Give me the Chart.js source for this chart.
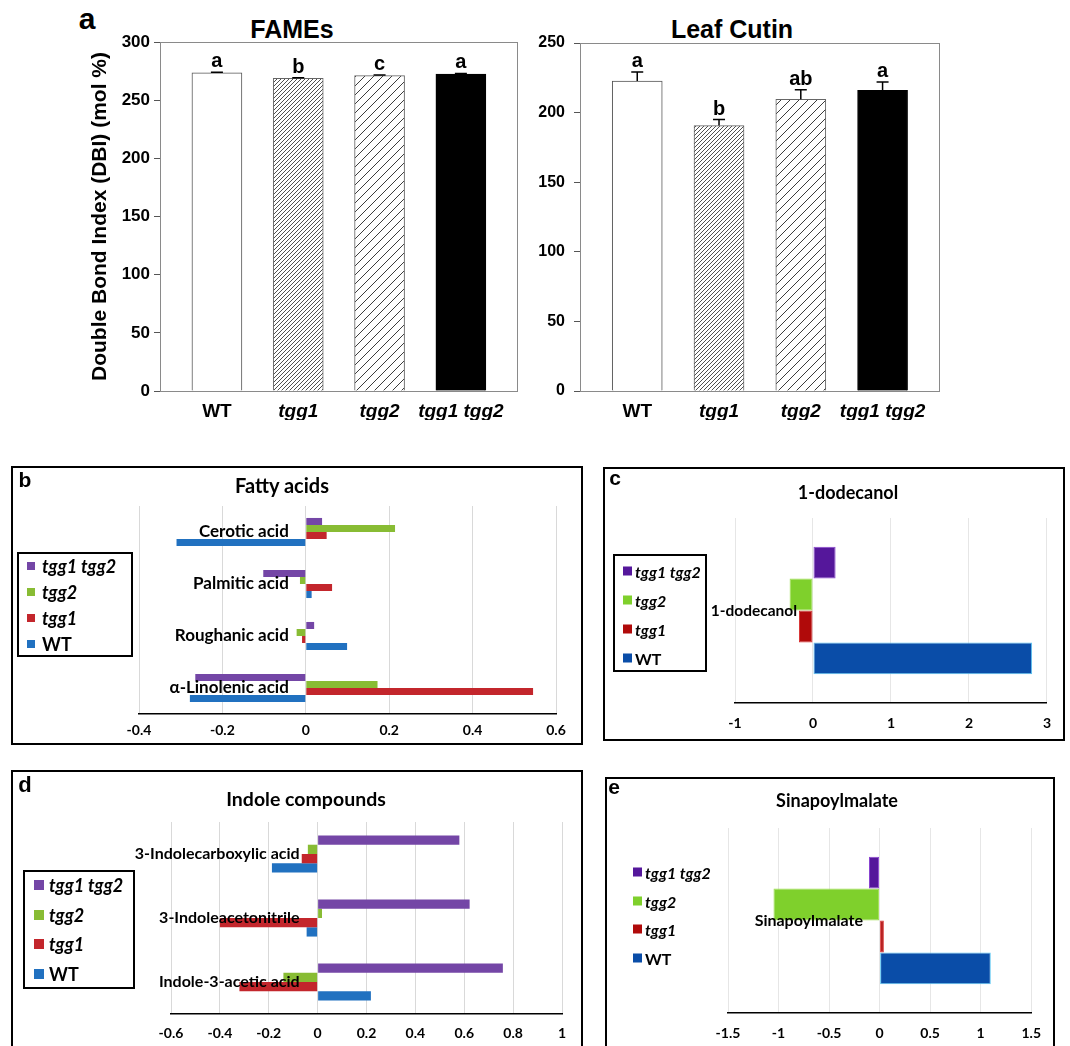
<!DOCTYPE html>
<html>
<head>
<meta charset="utf-8">
<script src="https://cdn.jsdelivr.net/npm/chart.js@4.4.1/dist/chart.umd.min.js"></script>
<style>
  body { margin: 0; background: #fff; width: 1070px; height: 1046px; overflow: hidden; position: relative; }
  canvas { position: absolute; }
  .box { position: absolute; border: 2px solid #000; box-sizing: border-box; }
  .txt { position: absolute; transform: translate(-50%, -50%); white-space: nowrap; font-weight: bold; color: #000; }
  .arial { font-family: "Liberation Sans", Arial, sans-serif; }
  .lato { font-family: Lato, "Open Sans", sans-serif; }
  .legend { position: absolute; box-sizing: border-box; font-family: Lato, sans-serif; font-weight: bold; }
  .legend .row { position: absolute; display: flex; align-items: center; white-space: nowrap; transform: translateY(-50%); }
  .legend .sw { display: inline-block; }
</style>
</head>
<body>

<div class="txt arial" style="left:87px;top:19px;font-size:30px">a</div>
<div class="txt arial" style="left:292px;top:29px;font-size:25px">FAMEs</div>
<div class="txt arial" style="left:732px;top:29px;font-size:25px">Leaf Cutin</div>
<canvas id="fames" width="530" height="420" style="left:0;top:0"></canvas>
<canvas id="cutin" width="430" height="420" style="left:530px;top:0"></canvas>

<div class="box" style="left:11px;top:466px;width:572px;height:279px"></div>
<canvas id="fatty" width="568" height="275" style="left:13px;top:468px"></canvas>
<div class="txt arial" style="left:25px;top:480px;font-size:21px">b</div>
<div class="txt lato" style="left:282px;top:485px;font-size:20px">Fatty acids</div>

<div class="box" style="left:603px;top:467px;width:462px;height:274px"></div>
<canvas id="dodecanol" width="458" height="270" style="left:605px;top:469px"></canvas>
<div class="txt arial" style="left:615px;top:478px;font-size:21px">c</div>
<div class="txt lato" style="left:848px;top:492px;font-size:18px">1-dodecanol</div>

<div class="box" style="left:11px;top:770px;width:572px;height:300px"></div>
<canvas id="indole" width="568" height="274" style="left:13px;top:772px"></canvas>
<div class="txt arial" style="left:25px;top:785px;font-size:22px">d</div>
<div class="txt lato" style="left:306px;top:798px;font-size:19.5px">Indole compounds</div>

<div class="box" style="left:605px;top:777px;width:450px;height:300px"></div>
<canvas id="sinapoyl" width="446" height="267" style="left:607px;top:779px"></canvas>
<div class="txt arial" style="left:614px;top:787px;font-size:21px">e</div>
<div class="txt lato" style="left:837px;top:800px;font-size:18px">Sinapoylmalate</div>

<script>
// panel a: double bond index
const genotypes = ["WT", "tgg1", "tgg2", "tgg1 tgg2"];
const famesDBI = [273.4, 268.8, 271.1, 272.5];
const famesErr = [0.6, 0.5, 0.5, 0.5];
const famesLetters = ["a", "b", "c", "a"];
const cutinDBI = [222.7, 190.7, 209.6, 216.0];
const cutinErr = [6.5, 4.3, 6.9, 6.0];
const cutinLetters = ["a", "b", "ab", "a"];

// panels b-e: series are listed top to bottom as in the legends
const seriesNames = ["tgg1 tgg2", "tgg2", "tgg1", "WT"];

const fattyAcids = ["Cerotic acid", "Palmitic acid", "Roughanic acid", "α-Linolenic acid"];
const fattyDouble = [0.039, -0.102, 0.02, -0.265];
const fattyTgg2 = [0.214, -0.014, -0.022, 0.172];
const fattyTgg1 = [0.05, 0.063, -0.009, 0.545];
const fattyWT = [-0.31, 0.014, 0.099, -0.278];

const dodecanol = ["1-dodecanol"];
const dodecanolDouble = [0.29];
const dodecanolTgg2 = [-0.3];
const dodecanolTgg1 = [-0.18];
const dodecanolWT = [2.81];

const indoles = ["3-Indolecarboxylic acid", "3-Indoleacetonitrile", "Indole-3-acetic acid"];
const indoleDouble = [0.58, 0.622, 0.758];
const indoleTgg2 = [-0.04, 0.018, -0.14];
const indoleTgg1 = [-0.065, -0.4, -0.32];
const indoleWT = [-0.187, -0.045, 0.218];

const sinapoyl = ["Sinapoylmalate"];
const sinapoylDouble = [-0.105];
const sinapoylTgg2 = [-1.05];
const sinapoylTgg1 = [0.042];
const sinapoylWT = [1.1];

const softColors = ["#7446a6", "#88bc34", "#c3262c", "#2171c0"];
const deepColors = ["#55179b", "#7fd02c", "#b00a0a", "#0a4da8"];
const deepBorders = ["#8a45d0", "#9fe050", "#d83030", "#5cc6f2"];

const ARIAL = '"Liberation Sans", Arial, sans-serif';

function hatch(step, width) {
  const c = document.createElement("canvas");
  c.width = c.height = step;
  const g = c.getContext("2d");
  g.fillStyle = "#fff";
  g.fillRect(0, 0, step, step);
  g.strokeStyle = "#3c3c3c";
  g.lineWidth = width;
  g.beginPath();
  g.moveTo(0, step); g.lineTo(step, 0);
  g.moveTo(-2, 2); g.lineTo(2, -2);
  g.moveTo(step - 2, step + 2); g.lineTo(step + 2, step - 2);
  g.stroke();
  return g.createPattern(c, "repeat");
}

const frame = {
  id: "frame",
  afterDatasetsDraw(chart) {
    const { ctx, chartArea: a } = chart;
    ctx.save();
    ctx.strokeStyle = "#8a8a8a";
    ctx.lineWidth = 1;
    ctx.strokeRect(a.left + 0.5, a.top + 0.5, a.right - a.left, a.bottom - a.top);
    ctx.restore();
  }
};

const errorBars = {
  id: "errorBars",
  afterDatasetsDraw(chart, args, opts) {
    const { ctx } = chart;
    const y = chart.scales.y;
    ctx.save();
    ctx.strokeStyle = "#000";
    ctx.fillStyle = "#000";
    ctx.lineWidth = 1.5;
    ctx.font = "bold 20px " + ARIAL;
    ctx.textAlign = "center";
    ctx.textBaseline = "alphabetic";
    chart.getDatasetMeta(0).data.forEach((bar, i) => {
      const top = y.getPixelForValue(opts.values[i] + opts.errors[i]);
      ctx.beginPath();
      ctx.moveTo(bar.x, bar.y);
      ctx.lineTo(bar.x, top);
      ctx.moveTo(bar.x - 6, top);
      ctx.lineTo(bar.x + 6, top);
      ctx.stroke();
      ctx.fillText(opts.letters[i], bar.x, top - 5);
    });
    ctx.restore();
  }
};

const fills = ["#fff", hatch(4, 0.9), hatch(9, 1), "#000"];

function dbiChart(id, o) {
  return new Chart(document.getElementById(id), {
    type: "bar",
    data: {
      datasets: [{
        data: genotypes.map((g, i) => ({ x: i, y: o.values[i] })),
        backgroundColor: fills,
        borderColor: ["#555", "#666", "#666", "#000"],
        borderWidth: 1,
        barThickness: 50
      }]
    },
    options: {
      responsive: false,
      animation: false,
      layout: { padding: o.pad },
      plugins: {
        legend: { display: false },
        tooltip: { enabled: false },
        errorBars: { values: o.values, errors: o.errors, letters: o.letters }
      },
      scales: {
        x: {
          type: "linear",
          offset: false,
          min: -0.7,
          max: 3.69,
          afterBuildTicks: s => { s.ticks = genotypes.map((g, i) => ({ value: i })); },
          afterFit: s => { s.height = 29; },
          grid: { display: false },
          border: { color: "#8a8a8a" },
          ticks: {
            autoSkip: false,
            maxRotation: 0,
            padding: 1,
            color: "#000",
            callback: v => genotypes[v],
            font: c => ({ family: ARIAL, size: 19, weight: "bold", style: c.index === 0 ? "normal" : "italic" })
          }
        },
        y: {
          min: 0,
          max: o.max,
          afterFit: s => { s.width = o.yWidth; },
          grid: { drawOnChartArea: false, tickLength: 6, color: "#555" },
          border: { color: "#8a8a8a" },
          ticks: { stepSize: 50, padding: o.tickPad, color: "#000", font: { family: ARIAL, size: o.tickSize, weight: "bold" } },
          title: {
            display: !!o.title,
            text: o.title,
            color: "#000",
            padding: { top: 13, bottom: 0 },
            font: { family: ARIAL, size: 21, weight: "bold" }
          }
        }
      }
    },
    plugins: [frame, errorBars]
  });
}

dbiChart("fames", {
  values: famesDBI, errors: famesErr, letters: famesLetters, max: 300,
  pad: { left: 75, right: 13, top: 42, bottom: 0 }, yWidth: 85, tickPad: 4, tickSize: 17,
  title: "Double Bond Index (DBI) (mol %)"
});
dbiChart("cutin", {
  values: cutinDBI, errors: cutinErr, letters: cutinLetters, max: 250,
  pad: { left: 0, right: 21, top: 43, bottom: 0 }, yWidth: 50, tickPad: 9, tickSize: 16
});

function divergingChart(id, o) {
  const canvas = document.getElementById(id);
  const colors = o.colors;
  // category labels sit a little to the left of the zero line
  const plotWidth = canvas.width - o.pad.left - o.pad.right;
  const labelAxisAt = -o.labelGap * (o.max - o.min) / plotWidth;
  const datasets = o.series.map((vals, i) => ({
    label: seriesNames[i],
    data: vals,
    backgroundColor: colors[i],
    borderColor: o.borders ? o.borders[i] : colors[i],
    borderWidth: o.borders ? 1 : 0,
    borderSkipped: false,
    categoryPercentage: o.catPct,
    barPercentage: 1
  }));
  return new Chart(canvas, {
    type: "bar",
    data: { labels: o.labels, datasets },
    options: {
      indexAxis: "y",
      responsive: false,
      animation: false,
      layout: { padding: o.pad },
      plugins: { legend: { display: false }, tooltip: { enabled: false } },
      scales: {
        x: {
          type: "linear",
          min: o.min,
          max: o.max,
          afterFit: s => { s.height = o.axisHeight; },
          grid: { color: o.gridColor, drawTicks: false },
          border: { display: true, color: "#000", width: 1.5 },
          ticks: {
            stepSize: o.step,
            padding: o.tickPad,
            color: "#000",
            font: { family: "Lato", size: 14, weight: "bold" },
            callback: v => String(Number(v.toFixed(2)))
          }
        },
        y: {
          position: { x: labelAxisAt },
          grid: { display: false, drawTicks: false },
          border: { display: false },
          ticks: { z: 1, padding: 0, color: "#000", font: { family: "Lato", size: o.catSize, weight: "bold" } }
        }
      }
    }
  });
}

divergingChart("fatty", {
  labels: fattyAcids, series: [fattyDouble, fattyTgg2, fattyTgg1, fattyWT], colors: softColors,
  min: -0.4, max: 0.6, step: 0.2, catPct: 0.54, catSize: 17, tickPad: 8, gridColor: "#d9d9d9", labelGap: 17,
  pad: { left: 126, right: 25, top: 38, bottom: 0 }, axisHeight: 29
});
divergingChart("dodecanol", {
  labels: dodecanol, series: [dodecanolDouble, dodecanolTgg2, dodecanolTgg1, dodecanolWT],
  colors: deepColors, borders: deepBorders,
  min: -1, max: 3, step: 1, catPct: 0.69, catSize: 15.5, tickPad: 12, gridColor: "#e6e6e6", labelGap: 16,
  pad: { left: 130, right: 15, top: 49, bottom: 0 }, axisHeight: 36
});
divergingChart("indole", {
  labels: indoles, series: [indoleDouble, indoleTgg2, indoleTgg1, indoleWT], colors: softColors,
  min: -0.6, max: 1, step: 0.2, catPct: 0.58, catSize: 16, tickPad: 11, gridColor: "#d9d9d9", labelGap: 18,
  pad: { left: 158, right: 19, top: 50, bottom: 0 }, axisHeight: 32
});
divergingChart("sinapoyl", {
  labels: sinapoyl, series: [sinapoylDouble, sinapoylTgg2, sinapoylTgg1, sinapoylWT],
  colors: deepColors, borders: deepBorders,
  min: -1.5, max: 1.5, step: 0.5, catPct: 0.69, catSize: 16, tickPad: 12, gridColor: "#e6e6e6", labelGap: 17,
  pad: { left: 121, right: 16, top: 49, bottom: 0 }, axisHeight: 33
});

function legend(o) {
  const box = document.createElement("div");
  box.className = "legend";
  Object.assign(box.style, {
    left: o.x + "px", top: o.y + "px", width: o.w + "px", height: o.h + "px",
    border: o.border ? "2px solid #000" : "none", fontSize: o.size + "px"
  });
  seriesNames.forEach((name, i) => {
    const row = document.createElement("div");
    row.className = "row";
    row.style.left = o.sqX + "px";
    row.style.top = (o.first + i * o.gap) + "px";
    const sw = document.createElement("span");
    sw.className = "sw";
    Object.assign(sw.style, { width: o.sq + "px", height: o.sq + "px", background: o.colors[i] });
    const label = document.createElement("span");
    label.textContent = name;
    label.style.marginLeft = o.txtGap + "px";
    label.style.fontStyle = name === "WT" ? "normal" : "italic";
    row.append(sw, label);
    box.appendChild(row);
  });
  document.body.appendChild(box);
}

legend({ x: 17, y: 552, w: 116, h: 105, border: true, size: 18, first: 12, gap: 26, sqX: 8, sq: 8, txtGap: 7, colors: softColors });
legend({ x: 613, y: 554, w: 94, h: 118, border: true, size: 16, first: 15, gap: 29, sqX: 8, sq: 9, txtGap: 3, colors: deepColors });
legend({ x: 23, y: 870, w: 112, h: 119, border: true, size: 18, first: 13, gap: 29.7, sqX: 9, sq: 10, txtGap: 5, colors: softColors });
legend({ x: 630, y: 858, w: 110, h: 115, border: false, size: 16, first: 14, gap: 28.7, sqX: 3, sq: 9, txtGap: 3, colors: deepColors });
</script>
</body>
</html>
